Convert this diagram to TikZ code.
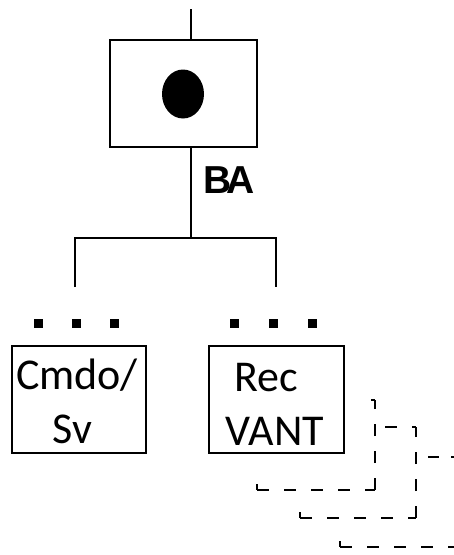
\documentclass[tikz,border=0pt]{standalone}
\usepackage{fontspec}
\setmainfont{Carlito}
\newfontfamily\arialfont{Liberation Sans}
\usetikzlibrary{shapes.geometric}
\begin{document}
\begin{tikzpicture}[x=1pt,y=-1pt,
  boxnode/.style={draw,line width=1.6pt,minimum height=107pt,inner sep=0pt},
  wire/.style={line width=1.6pt},
  dotsq/.style={fill=black,minimum size=9pt,inner sep=0pt},
  lbl/.style={anchor=base,inner sep=0pt,font=\fontsize{44}{44}\selectfont},
  dsh/.style={line width=1.6pt,dash pattern=on 12pt off 15pt},
  tick/.style={line width=1.6pt}]
\useasboundingbox (0,0) rectangle (454,555);
% top box with token
\node[boxnode,minimum width=147pt] (tbox) at (183.5,93.5) {};
\node[ellipse,fill=black,minimum width=42pt,minimum height=49pt,inner sep=0pt] (tok) at (183,94) {};
\coordinate (topc) at (191,9);
\draw[wire] (topc) -- (topc |- tbox.north);
% label
\node[anchor=base,inner sep=0pt,font=\arialfont\bfseries\fontsize{39}{39}\selectfont] (ba) at (229,193) {B\kern-6pt A};
% branch
\coordinate (jn) at (191,238);
\coordinate (lj) at (75,238);
\coordinate (rj) at (276,238);
\coordinate (la) at (75,287);
\coordinate (ra) at (276,287);
\draw[wire] (jn |- tbox.south) -- (jn);
\draw[wire] (la) -- (lj) -- (rj) -- (ra);
% dots
\node[dotsq] (d1) at (38,323) {};
\node[dotsq] (d2) at (76,323) {};
\node[dotsq] (d3) at (114,323) {};
\node[dotsq] (d4) at (234,323) {};
\node[dotsq] (d5) at (273,323) {};
\node[dotsq] (d6) at (312,323) {};
% boxes
\node[boxnode,minimum width=134pt] (lbox) at (79,399.5) {};
\node[boxnode,minimum width=135pt] (rbox) at (276.5,399.5) {};
\node[lbl] (t1) at (77,389) {Cmdo/};
\node[lbl] (t2) at (72.5,443) {Sv};
\node[lbl] (t3) at (266,391) {Rec};
\node[lbl] (t4) at (275,445) {VANT};
% dashed stacked shadows
\foreach \L/\T/\R/\B/\n in {257/400/375/490/a, 300/427/416/518/b, 340/457/455/547/c}{
  \draw[dsh] (\L,\B) -- (\R,\B);
  \draw[dsh] (\R,\B) -- (\R,\T);
  \draw[tick] (\L,\B-6) -- (\L,\B);
  \draw[tick] (\R-4,\T) -- (\R,\T);
}
\draw[tick] (385,427) -- (397,427);
\draw[tick] (428,457) -- (439,457);
\end{tikzpicture}
\end{document}
